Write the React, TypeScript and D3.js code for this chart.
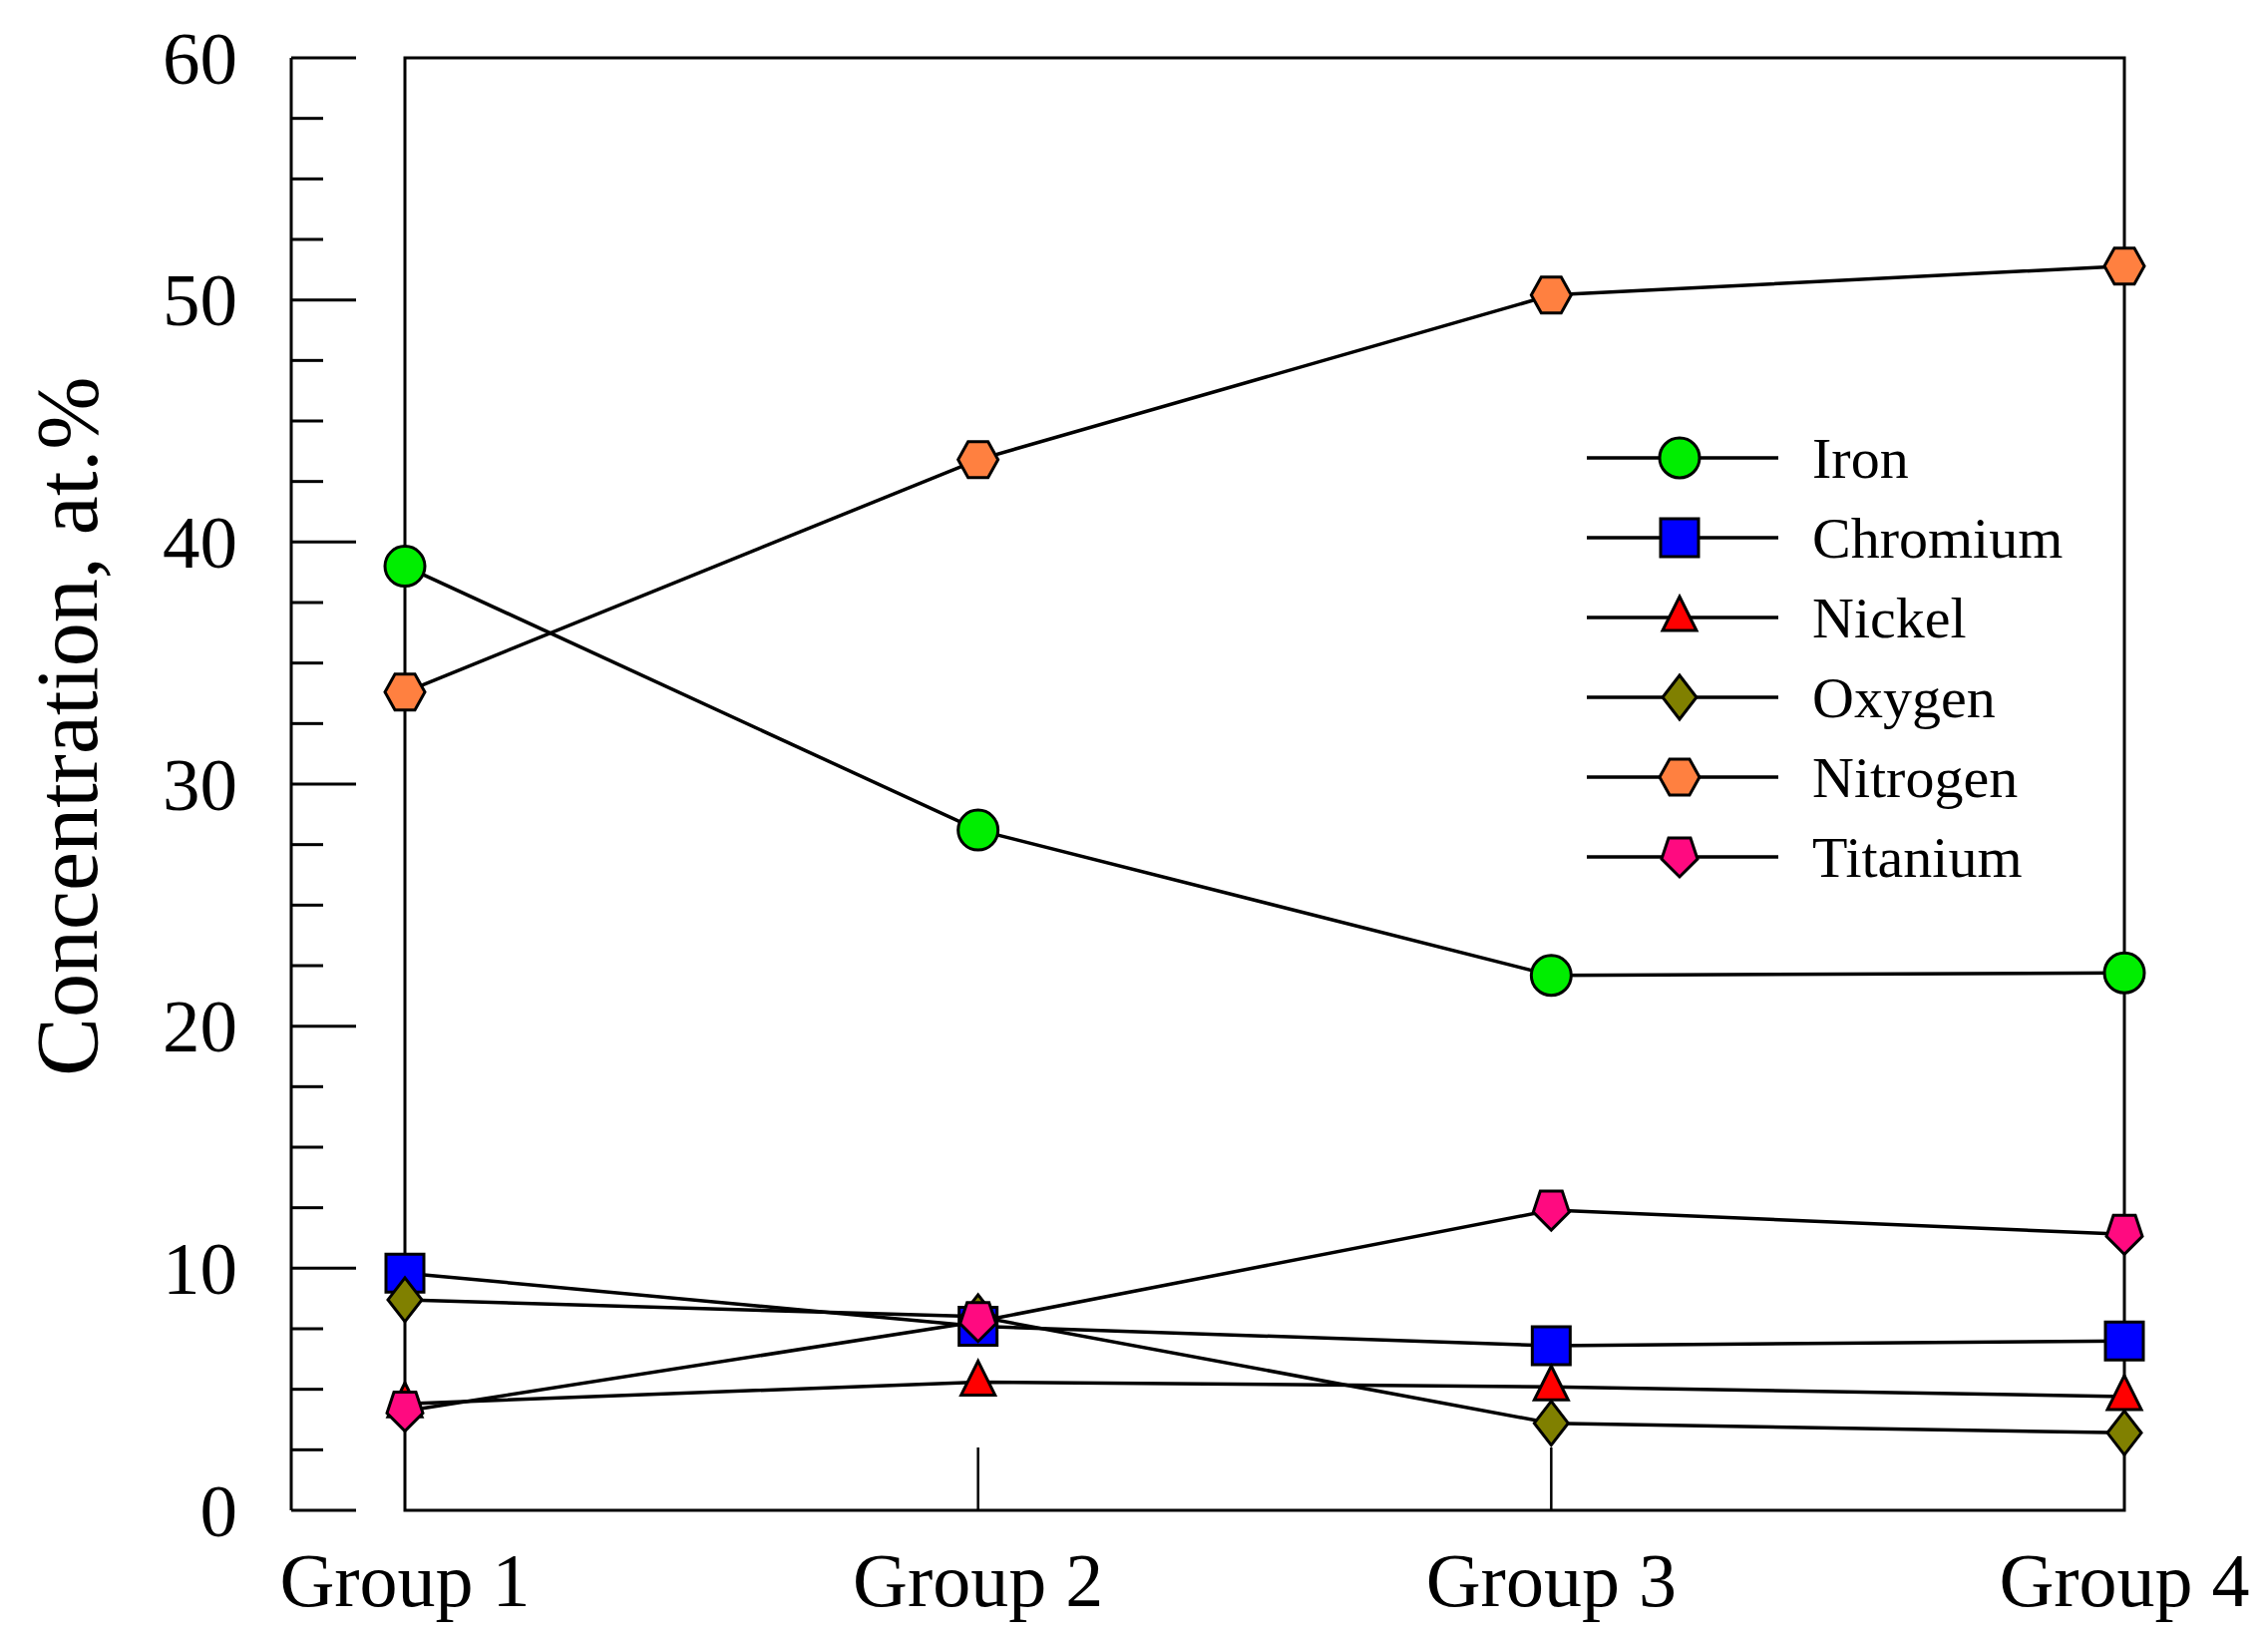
import React from 'react';
import * as d3 from 'd3';

const groups = ['Group 1', 'Group 2', 'Group 3', 'Group 4'];
const yTicks = [0, 10, 20, 30, 40, 50, 60];

const iron = [39.0, 28.1, 22.1, 22.2];
const chromium = [9.8, 7.6, 6.8, 7.0];
const nickel = [4.4, 5.3, 5.1, 4.7];
const oxygen = [8.7, 8.0, 3.6, 3.2];
const nitrogen = [33.8, 43.4, 50.2, 51.4];
const titanium = [4.1, 7.8, 12.4, 11.4];

const seriesNames = ['Iron', 'Chromium', 'Nickel', 'Oxygen', 'Nitrogen', 'Titanium'];
const seriesValues = [iron, chromium, nickel, oxygen, nitrogen, titanium];
const seriesColors = ['#00ee00', '#0000ff', '#ff0000', '#808000', '#ff8040', '#ff0a80'];
const seriesShapes = ['circle', 'square', 'triangle', 'diamond', 'hexagon', 'pentagon'];

const W = 2274;
const H = 1646;
const FONT = '"Liberation Serif", "Times New Roman", serif';

// marker outline, centred on 0,0
const shapePath = (shape: string): string => {
  const poly = (pts: [number, number][]) => 'M' + pts.map(p => p.join(',')).join('L') + 'Z';
  switch (shape) {
    case 'circle':
      return d3.symbol(d3.symbolCircle, Math.PI * 20 * 20)() || '';
    case 'square':
      return poly([[-19, -19], [19, -19], [19, 19], [-19, 19]]);
    case 'triangle':
      return poly([[0, -21], [17, 13], [-17, 13]]);
    case 'diamond':
      return poly([[0, -22], [17, 0], [0, 22], [-17, 0]]);
    case 'hexagon':
      return poly([[-10, -18], [10, -18], [20, 0], [10, 18], [-10, 18], [-20, 0]]);
    case 'pentagon':
      return poly([[-11, -19], [11, -19], [18, 2], [0, 20], [-18, 2]]);
  }
  return '';
};

const App: React.FC = () => {
  const x = d3.scalePoint<string>().domain(groups).range([406, 2130]);
  const y = d3.scaleLinear().domain([0, 60]).range([1514, 58]);
  const minor = d3.range(0, 60.01, 2.5).filter(v => v % 10 !== 0);
  const axisX = 292;

  const line = d3.line<number>()
    .x((_, i) => x(groups[i]) as number)
    .y(d => y(d));

  const x0 = x(groups[0]) as number;
  const x3 = x(groups[3]) as number;

  return (
    <div style={{ position: 'absolute', left: 0, top: 0 }}>
      <svg width={W} height={H} style={{ background: '#fff', display: 'block' }}>
        {/* left axis */}
        <g stroke="#000" strokeWidth={3}>
          <line x1={axisX} x2={axisX} y1={y(60)} y2={y(0)} />
          {yTicks.map(t => (
            <line key={'M' + t} x1={axisX} x2={axisX + 65} y1={y(t)} y2={y(t)} />
          ))}
          {minor.map(t => (
            <line key={'m' + t} x1={axisX} x2={axisX + 32} y1={y(t)} y2={y(t)} />
          ))}
        </g>
        <g fontFamily={FONT} fontSize={75} textAnchor="end">
          {yTicks.map(t => (
            <text key={t} x={238} y={y(t)} dy="0.34em">{t}</text>
          ))}
        </g>
        <text
          transform="translate(97, 728) rotate(-90)"
          fontFamily={FONT}
          fontSize={88}
          textAnchor="middle"
        >
          Concentration, at.%
        </text>

        {/* frame between first and last group */}
        <rect x={x0} y={y(60)} width={x3 - x0} height={y(0) - y(60)} fill="none" stroke="#000" strokeWidth={3} />
        <g stroke="#000" strokeWidth={2.5}>
          {groups.slice(1, 3).map(g => (
            <line key={g} x1={x(g)} x2={x(g)} y1={y(0)} y2={y(0) - 63} />
          ))}
        </g>
        <g fontFamily={FONT} fontSize={76} textAnchor="middle">
          {groups.map(g => (
            <text key={g} x={x(g)} y={1610}>{g}</text>
          ))}
        </g>

        {/* series */}
        {seriesValues.map((vals, si) => (
          <g key={seriesNames[si]}>
            <path d={line(vals) || ''} fill="none" stroke="#000" strokeWidth={3.5} />
            {vals.map((v, i) => (
              <path
                key={i}
                d={shapePath(seriesShapes[si])}
                transform={`translate(${x(groups[i])}, ${y(v)})`}
                fill={seriesColors[si]}
                stroke="#000"
                strokeWidth={3}
              />
            ))}
          </g>
        ))}

        {/* legend */}
        <g fontFamily={FONT} fontSize={58}>
          {seriesNames.map((name, i) => {
            const ly = 459 + i * 80;
            return (
              <g key={name}>
                <line x1={1591} x2={1783} y1={ly} y2={ly} stroke="#000" strokeWidth={3.5} />
                <path
                  d={shapePath(seriesShapes[i])}
                  transform={`translate(1684, ${ly})`}
                  fill={seriesColors[i]}
                  stroke="#000"
                  strokeWidth={3}
                />
                <text x={1817} y={ly} dy="0.34em">{name}</text>
              </g>
            );
          })}
        </g>
      </svg>
    </div>
  );
};

export default App;
